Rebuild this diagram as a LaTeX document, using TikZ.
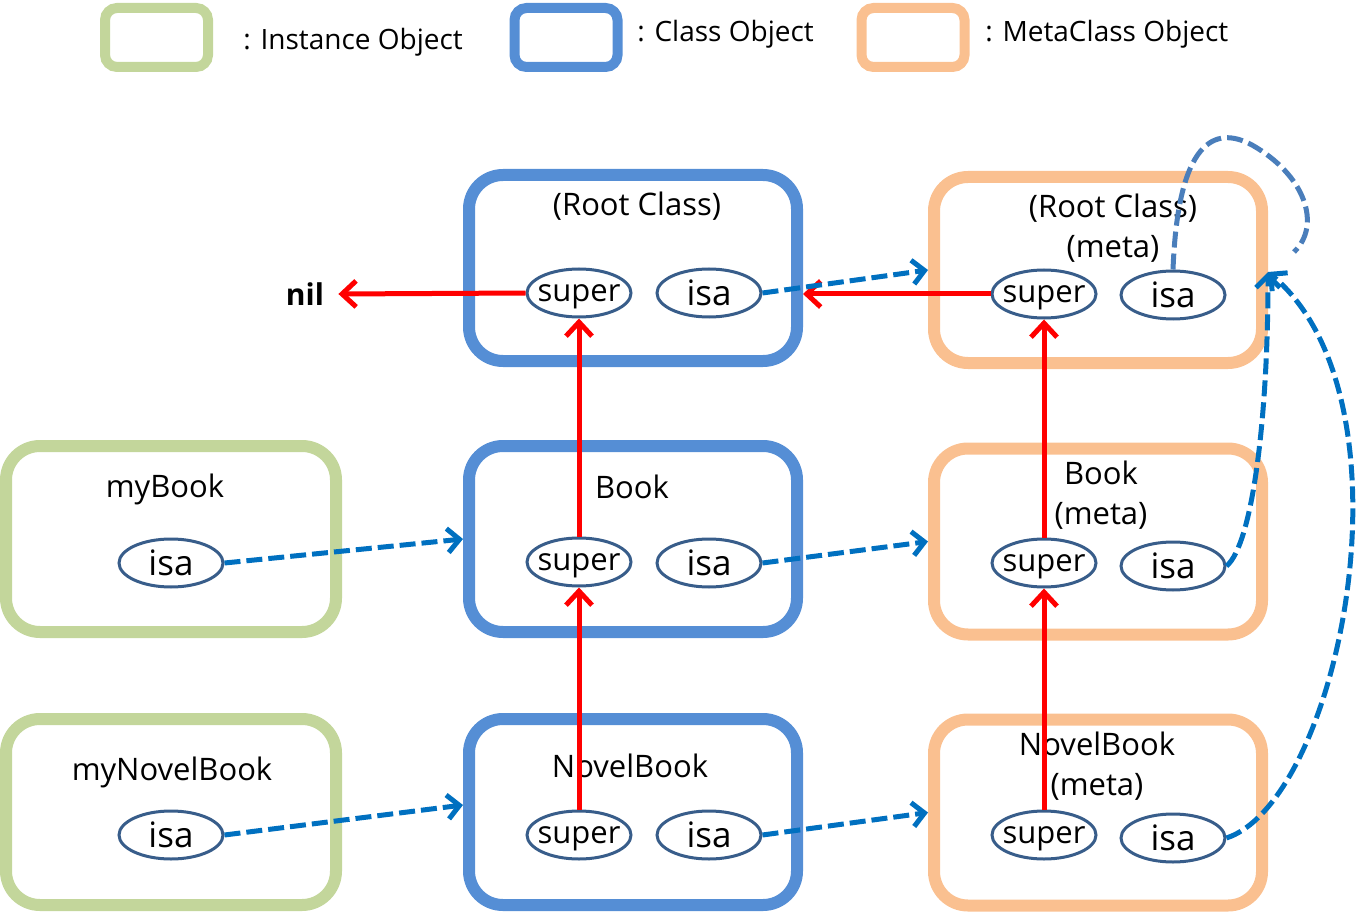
\documentclass[tikz,border=0pt]{standalone}
\usepackage{fontspec}
\setmainfont{Open Sans}
\usetikzlibrary{shapes.geometric,arrows.meta}

\definecolor{instgreen}{RGB}{195,214,155}
\definecolor{classblue}{RGB}{85,142,213}
\definecolor{metaorange}{RGB}{250,192,144}
\definecolor{slotblue}{RGB}{56,93,138}
\definecolor{isablue}{RGB}{0,112,192}
\definecolor{loopblue}{RGB}{74,126,187}

\begin{document}
\begin{tikzpicture}[x=0.5pt,y=-0.5pt]

    \tikzset{
      objbox/.style={draw,rounded corners=17pt,line width=6pt,minimum width=164pt,minimum height=93pt,inner sep=0pt},
      instbox/.style={objbox,draw=instgreen,minimum width=165pt},
      classbox/.style={objbox,draw=classblue},
      metabox/.style={objbox,draw=metaorange},
      keybox/.style={draw,rounded corners=6pt,line width=5pt,minimum width=51.5pt,minimum height=29.5pt,inner sep=0pt},
      keytext/.style={anchor=west,font=\fontsize{14}{17}\selectfont,inner sep=0pt},
      title/.style={align=center,font=\fontsize{15.5}{20}\selectfont,inner sep=0pt},
      slotshape/.style={ellipse,draw=slotblue,line width=1.5pt,fill=white,minimum width=52pt,minimum height=24pt,inner sep=-4pt},
      slot/.style={slotshape,text depth=0pt,font=\fontsize{15.5}{18}\selectfont},
      isaslot/.style={slotshape,font=\fontsize{17.5}{20}\selectfont},
      superlink/.style={draw=red,line width=2.5pt,-{Straight Barb[length=7pt,width=13pt]}},
      isalink/.style={draw=isablue,line width=2.5pt,dash pattern=on 8pt off 3pt,-{Straight Barb[length=6pt,width=12pt]}},
      looplink/.style={draw=loopblue,line width=2.5pt,dash pattern=on 8pt off 3pt},
    }
    \useasboundingbox (0,0) rectangle (1358,914);

	% legend
	\node[keybox,draw=instgreen] (keyinst) at (156.5,37.5) {};
	\node[keytext] (keyinstt) at (243,42) {: Instance Object};
	\node[keybox,draw=classblue] (keycls) at (566,37.5) {};
	\node[keytext] (keyclst) at (637,34) {: Class Object};
	\node[keybox,draw=metaorange] (keymeta) at (913,37.5) {};
	\node[keytext] (keymetat) at (985,34) {: MetaClass Object};

	% objects
	\node[classbox] (rootcls) at (633,268) {};
	\node[metabox] (rootmeta) at (1098,270) {};
	\node[instbox] (mybook) at (171,539) {};
	\node[classbox] (book) at (633,539) {};
	\node[metabox] (bookmeta) at (1098,541.5) {};
	\node[instbox] (mynovel) at (171,812) {};
	\node[classbox] (novel) at (633,812) {};
	\node[metabox] (novelmeta) at (1098,812.5) {};

	\node[title] (rootclst) at (637,206) {(Root Class)};
	\node[title] (rootmetat) at (1113,228) {(Root Class)\\(meta)};
	\node[title] (mybookt) at (165,489) {myBook};
	\node[title] (bookt) at (632,487) {Book};
	\node[title] (bookmetat) at (1101,495) {Book\\(meta)};
	\node[title] (mynovelt) at (172,772) {myNovelBook};
	\node[title] (novelt) at (630,766) {NovelBook};
	\node[title] (novelmetat) at (1097,766) {NovelBook\\(meta)};

	\node[slot] (rcsuper) at (579,293) {super};
	\node[isaslot] (rcisa) at (709,293) {isa};
	\node[slot] (rmsuper) at (1044,294) {super};
	\node[isaslot] (rmisa) at (1173,295) {isa};
	\node[isaslot] (mbisa) at (171,563) {isa};
	\node[slot] (bsuper) at (579,562) {super};
	\node[isaslot] (bisa) at (709,563) {isa};
	\node[slot] (bmsuper) at (1044,563) {super};
	\node[isaslot] (bmisa) at (1173,566) {isa};
	\node[isaslot] (mnisa) at (171,835) {isa};
	\node[slot] (nsuper) at (579,835) {super};
	\node[isaslot] (nisa) at (709,835) {isa};
	\node[slot] (nmsuper) at (1044,835) {super};
	\node[isaslot] (nmisa) at (1173,838) {isa};

	\node[font=\bfseries\fontsize{15}{18}\selectfont,inner sep=7pt] (nil) at (305,294) {nil};

	% super links
	\draw[superlink] (rcsuper.west) -- (nil.east);
	\draw[superlink] (bsuper.north) -- (rcsuper.south);
	\draw[superlink] (nsuper.north) -- (bsuper.south);
	\draw[superlink] (rmsuper.west) -- (rmsuper.west -| rootcls.east);
	\draw[superlink] (bmsuper.north) -- (rmsuper.south);
	\draw[superlink] (nmsuper.north) -- (bmsuper.south);

	% isa links
	\draw[isalink] (rcisa.east) -- (rootmeta.west);
	\draw[isalink] (mbisa.east) -- (book.west);
	\draw[isalink] (bisa.east) -- (bookmeta.west);
	\draw[isalink] (mnisa.east) -- ([yshift=3.5pt]novel.west);
	\draw[isalink] (nisa.east) -- (novelmeta.west);

	\coordinate (metatip) at (1268,272);
	\draw[isalink] (bmisa.east) .. controls (1252,545) and (1268,420) .. (metatip);
	\draw[isalink] (nmisa.east) .. controls (1340,800) and (1420,400) .. (metatip);
	\draw[looplink] (rmisa.north) .. controls (1178,140) and (1215,125) .. (1252,145) .. controls (1305,175) and (1322,225) .. (1294,252);

\end{tikzpicture}
\end{document}
